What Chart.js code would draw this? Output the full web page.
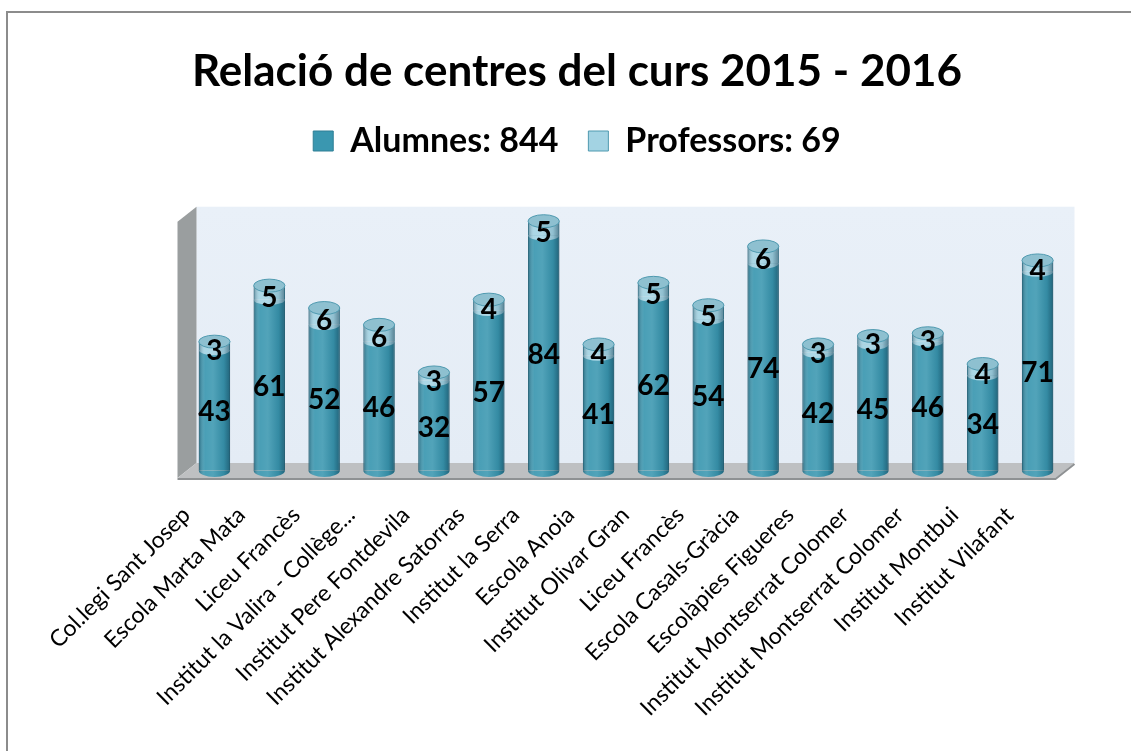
<!DOCTYPE html>
<html>
<head>
<meta charset="utf-8">
<script src="https://cdn.jsdelivr.net/npm/chart.js@4.4.1/dist/chart.umd.min.js"></script>
<style>
  html, body { margin: 0; padding: 0; background: #fff; }
  #wrap { position: relative; width: 1131px; height: 751px; }
</style>
</head>
<body>
<div id="wrap"><canvas id="myChart" width="1131" height="751"></canvas></div>
<script>
const centres = [
    'Col.legi Sant Josep', 'Escola Marta Mata', 'Liceu Francès', 'Institut la Valira - Collège...',
    'Institut Pere Fontdevila', 'Institut Alexandre Satorras', 'Institut la Serra', 'Escola Anoia',
    'Institut Olivar Gran', 'Liceu Francès', 'Escola Casals-Gràcia', 'Escolàpies Figueres',
    'Institut Montserrat Colomer', 'Institut Montserrat Colomer', 'Institut Montbui', 'Institut Vilafant'
];
const alumnes = [43, 61, 52, 46, 32, 57, 84, 41, 62, 54, 74, 42, 45, 46, 34, 71];
const professors = [3, 5, 6, 6, 3, 4, 5, 4, 5, 5, 6, 3, 3, 3, 4, 4];
const yMax = 108;
const wallTop = 91.5;

const sum = arr => arr.reduce((a, b) => a + b, 0);

const tealColor = '#3A97B0';
const lightColor = '#A3D3E3';
const capColor = '#8EC0D0';

// walls, floor, cylinder shading and the value labels
const cylinders = {
    id: 'cylinders',
    beforeDraw(chart) {
        const { ctx } = chart;
        ctx.save();
        ctx.strokeStyle = '#8c8c8c';
        ctx.lineWidth = 2;
        ctx.beginPath();
        ctx.moveTo(7, 751);
        ctx.lineTo(7, 12);
        ctx.lineTo(1131, 12);
        ctx.stroke();
        ctx.restore();
    },
    beforeDatasetsDraw(chart) {
        const { ctx, chartArea } = chart;
        const L = chartArea.left, R = chartArea.right, B = chartArea.bottom;
        const T = chart.scales.y.getPixelForValue(wallTop);
        const dx = 9.5, dy = 7.5;
        ctx.save();
        // back wall
        const g = ctx.createLinearGradient(0, T - dy, 0, B - dy);
        g.addColorStop(0, '#E9F0F8');
        g.addColorStop(1, '#E4ECF5');
        ctx.fillStyle = g;
        ctx.fillRect(L + dx, T - dy, R - L, B - T);
        // left wall
        ctx.fillStyle = '#9A9E9F';
        ctx.beginPath();
        ctx.moveTo(L - dx, T + dy);
        ctx.lineTo(L + dx, T - dy);
        ctx.lineTo(L + dx, B - dy);
        ctx.lineTo(L - dx, B + dy);
        ctx.closePath();
        ctx.fill();
        // floor
        ctx.fillStyle = '#BEC0C2';
        ctx.beginPath();
        ctx.moveTo(L - dx, B + dy);
        ctx.lineTo(L + dx, B - dy);
        ctx.lineTo(R + dx, B - dy);
        ctx.lineTo(R - dx, B + dy);
        ctx.closePath();
        ctx.fill();
        ctx.strokeStyle = '#8E9193';
        ctx.lineWidth = 2;
        ctx.beginPath();
        ctx.moveTo(L - dx, B + dy + 1);
        ctx.lineTo(R - dx, B + dy + 1);
        ctx.lineTo(R + dx, B - dy + 1);
        ctx.stroke();
        ctx.restore();
    },
    afterDatasetsDraw(chart) {
        const { ctx } = chart;
        const m0 = chart.getDatasetMeta(0), m1 = chart.getDatasetMeta(1);
        ctx.save();
        m0.data.forEach((el0, i) => {
            const el1 = m1.data[i];
            const x = el0.x, rx = el0.width / 2, ry = 6.5;
            const top = el1.y, base = el0.base, mid = el0.y;

            // rounded bottom
            ctx.fillStyle = tealColor;
            ctx.beginPath();
            ctx.ellipse(x, base, rx, ry, 0, 0, Math.PI);
            ctx.fill();
            // curved edge between the two segments
            ctx.fillStyle = lightColor;
            ctx.beginPath();
            ctx.ellipse(x, mid, rx, ry * 0.8, 0, 0, Math.PI);
            ctx.fill();

            // cylinder shading
            const g = ctx.createLinearGradient(x - rx, 0, x + rx, 0);
            g.addColorStop(0, 'rgba(10,50,70,0.45)');
            g.addColorStop(0.2, 'rgba(255,255,255,0.08)');
            g.addColorStop(0.45, 'rgba(255,255,255,0.12)');
            g.addColorStop(0.8, 'rgba(10,50,70,0.12)');
            g.addColorStop(1, 'rgba(10,50,70,0.5)');
            ctx.fillStyle = g;
            ctx.beginPath();
            ctx.moveTo(x - rx, top);
            ctx.lineTo(x - rx, base);
            ctx.ellipse(x, base, rx, ry, 0, Math.PI, 0, true);
            ctx.lineTo(x + rx, top);
            ctx.closePath();
            ctx.fill();

            // top cap
            ctx.fillStyle = capColor;
            ctx.strokeStyle = '#4F9AB0';
            ctx.lineWidth = 1;
            ctx.beginPath();
            ctx.ellipse(x, top, rx, ry, 0, 0, Math.PI * 2);
            ctx.fill();
            ctx.stroke();

            // value labels
            ctx.fillStyle = '#000';
            ctx.font = 'bold 28px Lato';
            ctx.textAlign = 'center';
            ctx.textBaseline = 'middle';
            ctx.fillText(alumnes[i], x, (el0.y + el0.base) / 2 + 2);
            ctx.fillText(professors[i], x, (el1.y + el1.base) / 2 + 5);
        });
        ctx.restore();
    }
};

new Chart(document.getElementById('myChart'), {
    type: 'bar',
    data: {
        labels: centres,
        datasets: [{
            label: 'Alumnes: ' + sum(alumnes),
            data: alumnes,
            backgroundColor: tealColor,
            borderColor: '#2E7F95',
            borderWidth: 1,
            barPercentage: 0.57,
            categoryPercentage: 1
        }, {
            label: 'Professors: ' + sum(professors),
            data: professors,
            backgroundColor: lightColor,
            borderColor: '#4F9AB0',
            borderWidth: 1,
            barPercentage: 0.57,
            categoryPercentage: 1
        }]
    },
    options: {
        responsive: false,
        animation: false,
        layout: { padding: { left: 89, right: 66, top: 0, bottom: 0 } },
        scales: {
            x: {
                stacked: true,
                grid: { display: false },
                border: { display: false },
                ticks: {
                    autoSkip: false,
                    minRotation: 45,
                    maxRotation: 45,
                    padding: 23,
                    labelOffset: -28,
                    color: '#000',
                    font: { family: 'Lato', size: 23 }
                },
                afterFit(axis) { axis.height = 280.5; }
            },
            y: {
                stacked: true,
                min: 0,
                max: yMax,
                grid: { display: false },
                border: { display: false },
                ticks: { display: false },
                afterFit(axis) { axis.width = 98; }
            }
        },
        plugins: {
            title: {
                display: true,
                text: 'Relació de centres del curs 2015 - 2016',
                color: '#000',
                font: { family: 'Lato', size: 44, weight: 'bold', lineHeight: 1.0 },
                padding: { top: 50, bottom: 0 }
            },
            legend: {
                position: 'top',
                labels: {
                    color: '#000',
                    boxWidth: 20,
                    boxHeight: 20,
                    padding: 30,
                    font: { family: 'Lato', size: 34, weight: 'bold' }
                }
            },
            tooltip: { enabled: false }
        }
    },
    plugins: [cylinders]
});
</script>
</body>
</html>
